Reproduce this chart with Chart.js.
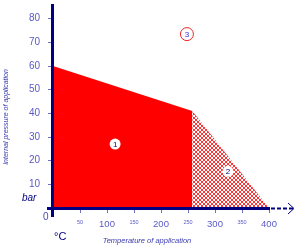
<!DOCTYPE html>
<html>
<head>
<meta charset="utf-8">
<script src="https://cdn.jsdelivr.net/npm/chart.js@4/dist/chart.umd.min.js"></script>
<style>
  html, body { margin: 0; padding: 0; background: #fff; }
  #wrap { width: 304px; height: 250px; }
</style>
</head>
<body>
<div id="wrap"><canvas id="chart" width="304" height="250"></canvas></div>
<script>
// limit line of the application range (temperature in °C, pressure in bar)
const limitTemp = [0, 258];
const limitPress = [60, 41];
// extended range (hatched)
const extTemp = [258, 400];
const extPress = [41, 0];
// zone markers
const zoneNames = ['1', '2', '3'];
const zoneTemp = [115, 324, 248];
const zonePress = [27, 15.5, 73.5];

const xTicks = [50, 100, 150, 200, 250, 300, 350, 400];
const yTicks = [10, 20, 30, 40, 50, 60, 70, 80];

const FONT = 'Liberation Sans, Arial, sans-serif';
const NAVY = '#000080';

function makeHatch() {
  const c = document.createElement('canvas');
  c.width = 4;
  c.height = 4;
  const g = c.getContext('2d');
  g.fillStyle = '#ffffff';
  g.fillRect(0, 0, 4, 4);
  g.strokeStyle = '#ff0000';
  g.lineWidth = 0.8;
  g.beginPath();
  g.moveTo(0, 0); g.lineTo(4, 4);
  g.moveTo(4, 0); g.lineTo(0, 4);
  g.stroke();
  return document.getElementById('chart').getContext('2d').createPattern(c, 'repeat');
}

function toPoints(xs, ys) {
  return xs.map((x, i) => ({ x: x, y: ys[i] }));
}

const decorations = {
  id: 'decorations',
  afterDraw(chart) {
    const ctx = chart.ctx;
    const x = chart.scales.x;
    const y = chart.scales.y;
    const x0 = x.getPixelForValue(0);
    const y0 = y.getPixelForValue(0);
    const xEnd = x.getPixelForValue(400);
    ctx.save();

    // axes
    ctx.strokeStyle = NAVY;
    ctx.lineWidth = 3;
    ctx.beginPath();
    ctx.moveTo(x0 - 0.5, 4);
    ctx.lineTo(x0 - 0.5, y0 + 9);
    ctx.moveTo(x0 - 6, y0 + 0.5);
    ctx.lineTo(xEnd + 1, y0 + 0.5);
    ctx.stroke();

    // dashed arrow past 400
    ctx.lineWidth = 2;
    ctx.setLineDash([4, 2]);
    ctx.beginPath();
    ctx.moveTo(xEnd + 2, y0 + 0.5);
    ctx.lineTo(xEnd + 24, y0 + 0.5);
    ctx.stroke();
    ctx.setLineDash([]);
    ctx.lineWidth = 1;
    ctx.beginPath();
    ctx.moveTo(xEnd + 19, y0 - 5);
    ctx.lineTo(xEnd + 25, y0 + 0.5);
    ctx.lineTo(xEnd + 19, y0 + 6);
    ctx.stroke();

    // zone numbers
    const meta1 = chart.getDatasetMeta(2);
    const meta2 = chart.getDatasetMeta(3);
    const pts = meta1.data.concat(meta2.data);
    ctx.font = '8px ' + FONT;
    ctx.textAlign = 'center';
    ctx.textBaseline = 'middle';
    pts.forEach((p, i) => {
      ctx.fillStyle = i === 2 ? '#3333cc' : NAVY;
      ctx.fillText(zoneNames[i], p.x, p.y + 0.5);
    });

    // unit labels
    ctx.fillStyle = NAVY;
    ctx.font = 'italic 10px ' + FONT;
    ctx.textAlign = 'left';
    ctx.fillText('bar', 22, 198);
    ctx.font = '11px ' + FONT;
    ctx.fillText('°C', 54, 237);
    ctx.fillStyle = '#4848b8';
    ctx.font = '10px ' + FONT;
    ctx.fillText('0', 43, 217);

    // axis titles
    ctx.fillStyle = '#3a3ab0';
    ctx.font = 'italic 7.5px ' + FONT;
    ctx.textAlign = 'center';
    ctx.fillText('Temperature of application', 147, 241);
    ctx.translate(6, 117);
    ctx.rotate(-Math.PI / 2);
    ctx.font = 'italic 7px ' + FONT;
    ctx.fillText('Internal pressure of application', 0, 0);
    ctx.restore();
  }
};

new Chart(document.getElementById('chart').getContext('2d'), {
  type: 'scatter',
  data: {
    datasets: [
      {
        data: toPoints(limitTemp, limitPress),
        showLine: true,
        fill: 'origin',
        backgroundColor: '#ff0000',
        borderWidth: 0,
        pointRadius: 0,
        order: 3,
      },
      {
        data: toPoints(extTemp, extPress),
        showLine: true,
        fill: 'origin',
        backgroundColor: makeHatch(),
        borderWidth: 0,
        pointRadius: 0,
        order: 2,
      },
      {
        data: toPoints(zoneTemp.slice(0, 2), zonePress.slice(0, 2)),
        pointRadius: 5.5,
        pointBackgroundColor: '#ffffff',
        pointBorderColor: '#ffffff',
        pointBorderWidth: 0,
        order: 1,
      },
      {
        data: toPoints(zoneTemp.slice(2), zonePress.slice(2)),
        pointRadius: 6.5,
        pointBackgroundColor: '#ffffff',
        pointBorderColor: '#ee2222',
        pointBorderWidth: 1,
        order: 0,
      },
    ],
  },
  options: {
    responsive: false,
    animation: false,
    layout: { padding: { top: 7, right: 35, left: 0, bottom: 0 } },
    plugins: {
      legend: { display: false },
      tooltip: { enabled: false },
    },
    scales: {
      x: {
        type: 'linear',
        min: 0,
        max: 400,
        afterFit: (scale) => { scale.height = 42; },
        afterBuildTicks: (scale) => { scale.ticks = xTicks.map((v) => ({ value: v })); },
        grid: { drawOnChartArea: false, drawTicks: true, tickLength: 5, color: '#7070c0' },
        border: { display: false },
        ticks: {
          padding: 6,
          maxRotation: 0,
          autoSkip: false,
          color: '#5a5ac8',
          font: (c) => ({ size: c.tick && c.tick.value % 100 === 0 ? 9.5 : 5.5, family: FONT }),
        },
      },
      y: {
        min: 0,
        max: 82,
        afterFit: (scale) => { scale.width = 53; },
        afterBuildTicks: (scale) => { scale.ticks = yTicks.map((v) => ({ value: v })); },
        grid: { drawOnChartArea: false, drawTicks: true, tickLength: 5, color: '#7070c0' },
        border: { display: false },
        ticks: {
          padding: 8,
          color: '#5a5ac8',
          font: { size: 10, family: FONT },
        },
      },
    },
  },
  plugins: [decorations],
});
</script>
</body>
</html>
